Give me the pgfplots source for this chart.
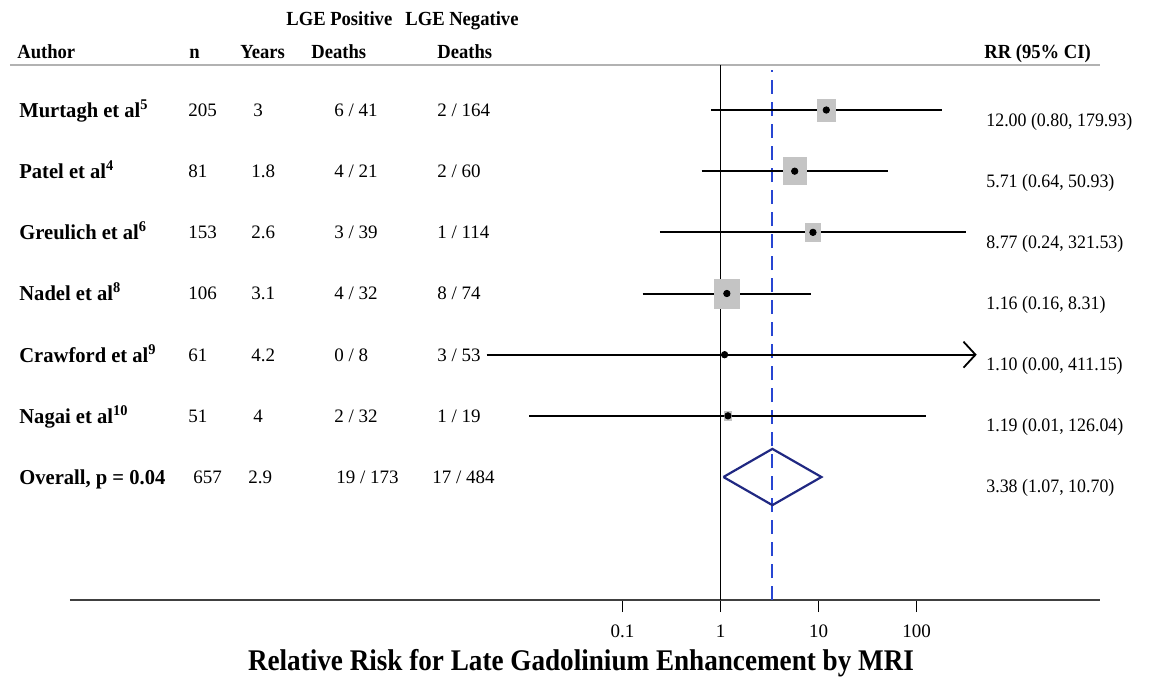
\documentclass[border=0pt]{standalone}
\usepackage{fontspec}
\setmainfont{Liberation Serif}
\usepackage{graphicx}
\usepackage{pgfplots}
\pgfplotsset{compat=1.18}
\usetikzlibrary{arrows.meta}
\definecolor{boxgray}{RGB}{196,196,196}
\definecolor{dashblue}{RGB}{40,70,210}
\definecolor{navy}{RGB}{32,40,130}
\newcommand{\hdr}[1]{\scalebox{0.93}[1]{\fontsize{10}{12}\selectfont\bfseries #1}}
\newcommand{\lab}[1]{\scalebox{0.97}[1]{\fontsize{10.6}{12}\selectfont\bfseries #1}}
\newcommand{\rr}[1]{\scalebox{0.94}[1]{#1}}
\newcommand{\tx}[4][base west]{\node[anchor=#1,inner sep=0pt,font=\fontsize{9.5}{11}\selectfont] at (rel axis cs:{(#2-70)/1030},{(600-#3)/535}) {#4};}
\begin{document}
\begin{tikzpicture}
\begin{axis}[
  scale only axis, width=515pt, height=267.5pt,
  xmode=log, xmin=2.30e-7, xmax=7450, ymin=-1.011, ymax=7.736,
  axis x line*=bottom, axis y line=none,
  x axis line style={-, line width=1.3pt, draw=black!75},
  xtick={0.1,1,10,100}, xticklabels={0.1,1,10,100},
  xminorticks=false, ytick=\empty,
  tick align=outside, major tick length=6pt,
  x tick style={black, line width=0.7pt},
  xticklabel style={font=\fontsize{9.5}{11}\selectfont, yshift=-3pt},
  clip=false,
]
% header rule
\draw[line width=1pt, draw=black!30] (rel axis cs:{(10-70)/1030},1) -- (rel axis cs:1,1);
% reference lines
\addplot[black, line width=0.8pt] coordinates {(1,-1.011) (1,7.736)};
\addplot[dashblue, line width=1pt, dash pattern=on 7pt off 4pt] coordinates {(3.38,-1.011) (3.38,7.65)};
% weight boxes
\addplot[only marks, color=boxgray, mark=square*, mark size=5.5pt, mark options={boxgray, xscale=0.85}] coordinates {(12.00,7)};
\addplot[only marks, color=boxgray, mark=square*, mark size=6.7pt, mark options={boxgray, xscale=0.85}] coordinates {(5.71,6)};
\addplot[only marks, color=boxgray, mark=square*, mark size=4.4pt, mark options={boxgray, xscale=0.85}] coordinates {(8.77,5)};
\addplot[only marks, color=boxgray, mark=square*, mark size=7.25pt, mark options={boxgray, xscale=0.85}] coordinates {(1.16,4)};
\addplot[only marks, color=boxgray, mark=square*, mark size=1.2pt, mark options={boxgray, xscale=0.85}] coordinates {(1.10,3)};
\addplot[only marks, color=boxgray, mark=square*, mark size=2.2pt, mark options={boxgray, xscale=0.85}] coordinates {(1.19,2)};
% confidence intervals
\addplot[black, line width=1pt] coordinates {(0.80,7) (179.93,7)};
\addplot[black, line width=1pt] coordinates {(0.64,6) (50.93,6)};
\addplot[black, line width=1pt] coordinates {(0.24,5) (321.53,5)};
\addplot[black, line width=1pt] coordinates {(0.16,4) (8.31,4)};
\addplot[black, line width=1pt, -{Straight Barb[length=6pt,width=13pt,line width=0.9pt]}] coordinates {(0.0041,3) (411.15,3)};
\addplot[black, line width=1pt] coordinates {(0.0112,2) (126.04,2)};
% point estimates
\addplot[only marks, mark=*, mark size=1.6pt, black] coordinates {(12.00,7) (5.71,6) (8.77,5) (1.16,4) (1.10,3) (1.19,2)};
% overall diamond
\addplot[navy, line width=1.1pt] coordinates {(1.07,1) (3.38,1.46) (10.70,1) (3.38,0.54) (1.07,1)};
% header texts
\tx{17}{58}{\hdr{Author}}
\tx{189}{58}{\hdr{n}}
\tx{240}{58}{\hdr{Years}}
\tx{286}{26}{\hdr{LGE Positive}}
\tx{311}{58}{\hdr{Deaths}}
\tx{405}{26}{\hdr{LGE Negative}}
\tx{437}{58}{\hdr{Deaths}}
\tx{984}{58}{\hdr{RR (95\% CI)}}
% rows
\tx{19}{117}{\lab{Murtagh et al\textsuperscript{5}}}
\tx{188}{116}{205}\tx{253}{116}{3}\tx{334}{116}{6 / 41}\tx{437}{116}{2 / 164}
\tx{19}{178}{\lab{Patel et al\textsuperscript{4}}}
\tx{188}{177}{81}\tx{251}{177}{1.8}\tx{334}{177}{4 / 21}\tx{437}{177}{2 / 60}
\tx{19}{239}{\lab{Greulich et al\textsuperscript{6}}}
\tx{188}{238}{153}\tx{251}{238}{2.6}\tx{334}{238}{3 / 39}\tx{437}{238}{1 / 114}
\tx{19}{300}{\lab{Nadel et al\textsuperscript{8}}}
\tx{188}{299}{106}\tx{251}{299}{3.1}\tx{334}{299}{4 / 32}\tx{437}{299}{8 / 74}
\tx{19}{362}{\lab{Crawford et al\textsuperscript{9}}}
\tx{188}{361}{61}\tx{251}{361}{4.2}\tx{334}{361}{0 / 8}\tx{437}{361}{3 / 53}
\tx{19}{423}{\lab{Nagai et al\textsuperscript{10}}}
\tx{188}{422}{51}\tx{253}{422}{4}\tx{334}{422}{2 / 32}\tx{437}{422}{1 / 19}
\tx{19}{484}{\lab{Overall, p = 0.04}}
\tx{193}{483}{657}\tx{248}{483}{2.9}\tx{336}{483}{19 / 173}\tx{432}{483}{17 / 484}
% right column
\tx{986}{126}{\rr{12.00 (0.80, 179.93)}}
\tx{986}{187}{\rr{5.71 (0.64, 50.93)}}
\tx{986}{248}{\rr{8.77 (0.24, 321.53)}}
\tx{986}{309}{\rr{1.16 (0.16, 8.31)}}
\tx{986}{370}{\rr{1.10 (0.00, 411.15)}}
\tx{986}{431}{\rr{1.19 (0.01, 126.04)}}
\tx{986}{492}{\rr{3.38 (1.07, 10.70)}}
% x label
\node[anchor=base, inner sep=0pt] at (rel axis cs:{(581-70)/1030},{(600-670)/535}) {\scalebox{0.905}[1]{\fontsize{15}{18}\selectfont\bfseries Relative Risk for Late Gadolinium Enhancement by MRI}};
% page extent
\path (rel axis cs:{-70/1030},{(600-679)/535}) rectangle (rel axis cs:{1087/1030},{600/535});
\end{axis}
\end{tikzpicture}
\end{document}
